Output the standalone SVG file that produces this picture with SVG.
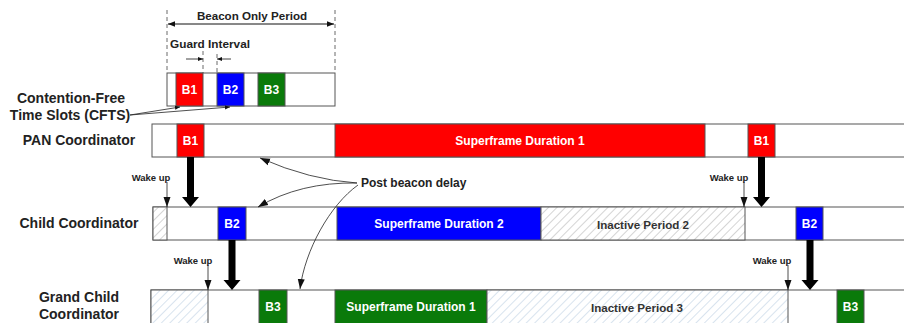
<svg xmlns="http://www.w3.org/2000/svg" width="904" height="323" viewBox="0 0 904 323">
<style>
text{font-family:"Liberation Sans",Arial,sans-serif;font-weight:bold;fill:#222;dominant-baseline:central;text-anchor:middle}
.lbl{font-size:14px}
.bar{font-size:12px;fill:#fff}
.dark{font-size:11.6px;fill:#333}
.wk{font-size:9.5px}
.seg{stroke:#555;stroke-width:1}
.w{fill:#fff}
.r{fill:#ff0000}
.b{fill:#0000ff}
.g{fill:#0a7a0a}
.hg{fill:url(#hatchGray)}
.hb{fill:url(#hatchBlue)}
.thin{stroke:#222;stroke-width:0.8;fill:none}
.dash{stroke:#444;stroke-width:0.8;stroke-dasharray:4,3;fill:none}
.thick{fill:#000}
</style>
<defs>
<pattern id="hatchGray" patternUnits="userSpaceOnUse" width="6" height="6" patternTransform="rotate(45)">
<rect width="6" height="6" fill="#fff"/>
<line x1="0" y1="0" x2="0" y2="6" stroke="#b0b0b0" stroke-width="1.1"/>
</pattern>
<pattern id="hatchBlue" patternUnits="userSpaceOnUse" width="6" height="6" patternTransform="rotate(45)">
<rect width="6" height="6" fill="#fff"/>
<line x1="0" y1="0" x2="0" y2="6" stroke="#b8cde0" stroke-width="1.1"/>
</pattern>
<marker id="ah" viewBox="0 0 10 10" refX="10" refY="5" markerWidth="7" markerHeight="7" orient="auto-start-reverse" markerUnits="userSpaceOnUse">
<path d="M0,1 L10,5 L0,9 z" fill="#111"/>
</marker>
<marker id="ahs" viewBox="0 0 10 10" refX="10" refY="5" markerWidth="5" markerHeight="5" orient="auto" markerUnits="userSpaceOnUse">
<path d="M0,1 L10,5 L0,9 z" fill="#111"/>
</marker>
<marker id="ahb" viewBox="0 0 10 10" refX="10" refY="5" markerWidth="10" markerHeight="10" orient="auto-start-reverse" markerUnits="userSpaceOnUse">
<path d="M0,1.5 L10,5 L0,8.5 z" fill="#111"/>
</marker>
</defs>

<g id="labels">
<text class="lbl" x="71" y="98">Contention-Free</text>
<text class="lbl" x="70" y="115">Time Slots (CFTS)</text>
<text class="lbl" x="79" y="140">PAN Coordinator</text>
<text class="lbl" x="79" y="223">Child Coordinator</text>
<text class="lbl" x="79" y="297">Grand Child</text>
<text class="lbl" x="79" y="314">Coordinator</text>
</g>

<g id="beacon-only">
<line class="dash" x1="167" y1="10" x2="167" y2="73"/>
<line class="dash" x1="335" y1="10" x2="335" y2="73"/>
<line x1="168" y1="24" x2="334" y2="24" stroke="#111" stroke-width="1" marker-start="url(#ah)" marker-end="url(#ah)"/>
<text x="252" y="15" style="font-size:11.6px">Beacon Only Period</text>
<text x="170" y="44" style="font-size:11.8px;text-anchor:start">Guard Interval</text>
<line class="dash" x1="203" y1="51" x2="203" y2="73"/>
<line class="dash" x1="217" y1="54" x2="217" y2="73"/>
<line x1="186" y1="59" x2="203" y2="59" stroke="#111" stroke-width="0.8" marker-end="url(#ahs)"/>
<line x1="231" y1="59" x2="217" y2="59" stroke="#111" stroke-width="0.8" marker-end="url(#ahs)"/>
<rect class="seg w" x="167" y="73" width="168" height="33"/>
<rect class="seg r" x="176" y="73" width="27" height="33"/>
<rect class="seg b" x="217" y="73" width="27" height="33"/>
<rect class="seg g" x="258" y="73" width="27" height="33"/>
<text class="bar" x="189.5" y="90">B1</text>
<text class="bar" x="230.5" y="90">B2</text>
<text class="bar" x="271.5" y="90">B3</text>
</g>

<g id="pan">
<rect class="seg w" x="152" y="124" width="760" height="33"/>
<rect class="seg r" x="177" y="124" width="27" height="33"/>
<rect class="seg r" x="335" y="124" width="370" height="33"/>
<rect class="seg r" x="748" y="124" width="27" height="33"/>
<text class="bar" x="190.5" y="141">B1</text>
<text class="bar" x="520" y="141">Superframe Duration 1</text>
<text class="bar" x="761.5" y="141">B1</text>
</g>

<g id="child">
<rect class="seg w" x="153" y="207" width="760" height="33"/>
<rect class="seg hg" x="153" y="207" width="14" height="33"/>
<rect class="seg b" x="218" y="207" width="28" height="33"/>
<rect class="seg b" x="337" y="207" width="204" height="33"/>
<rect class="seg hg" x="541" y="207" width="204" height="33"/>
<rect class="seg b" x="796" y="207" width="27" height="33"/>
<text class="bar" x="232" y="224">B2</text>
<text class="bar" x="439" y="224">Superframe Duration 2</text>
<text class="dark" x="643" y="224">Inactive Period 2</text>
<text class="bar" x="809.5" y="224">B2</text>
</g>

<g id="grandchild">
<rect class="seg w" x="151" y="290" width="760" height="40"/>
<rect class="seg hb" x="151" y="290" width="57" height="40"/>
<rect class="seg g" x="259" y="290" width="28" height="40"/>
<rect class="seg g" x="335" y="290" width="152" height="40"/>
<rect class="seg hb" x="487" y="290" width="301" height="40"/>
<rect class="seg g" x="837" y="290" width="27" height="40"/>
<text class="bar" x="273" y="307">B3</text>
<text class="bar" x="411" y="307">Superframe Duration 1</text>
<text class="dark" x="637" y="307">Inactive Period 3</text>
<text class="bar" x="850.5" y="307">B3</text>
</g>

<g id="post-beacon">
<text x="361" y="183" style="font-size:12px;text-anchor:start">Post beacon delay</text>
</g>

<g id="wake-labels">
<text class="wk" x="151" y="177">Wake up</text>
<text class="wk" x="729" y="177">Wake up</text>
<text class="wk" x="193" y="260">Wake up</text>
<text class="wk" x="772" y="260">Wake up</text>
</g>

<g id="connectors">
<path class="thin" d="M130,115 L180,107" marker-end="url(#ahs)"/>
<path class="thin" d="M130,115 L230,107" marker-end="url(#ahs)"/>
<path class="thin" d="M357,183 Q310,180 260,158" marker-end="url(#ahb)"/>
<path class="thin" d="M357,183 Q300,182 258,207" marker-end="url(#ahb)"/>
<path class="thin" d="M358,185 C330,205 305,250 300,289" marker-end="url(#ahb)"/>
<line class="thin" x1="167" y1="182" x2="167" y2="207" marker-end="url(#ahb)"/>
<line class="thin" x1="744" y1="182" x2="744" y2="207" marker-end="url(#ahb)"/>
<line class="thin" x1="208" y1="265" x2="208" y2="290" marker-end="url(#ahb)"/>
<line class="thin" x1="788" y1="265" x2="788" y2="290" marker-end="url(#ahb)"/>
<path class="thick" d="M187,157 L194,157 L194,197 L199,197 L190.5,207 L182,197 L187,197 z"/>
<path class="thick" d="M758,157 L765,157 L765,197 L770,197 L761.5,207 L753,197 L758,197 z"/>
<path class="thick" d="M228.5,240 L235.5,240 L235.5,280 L240.5,280 L232,290 L223.5,280 L228.5,280 z"/>
<path class="thick" d="M806.5,240 L813.5,240 L813.5,280 L818.5,280 L810,290 L801.5,280 L806.5,280 z"/>
</g>
</svg>
